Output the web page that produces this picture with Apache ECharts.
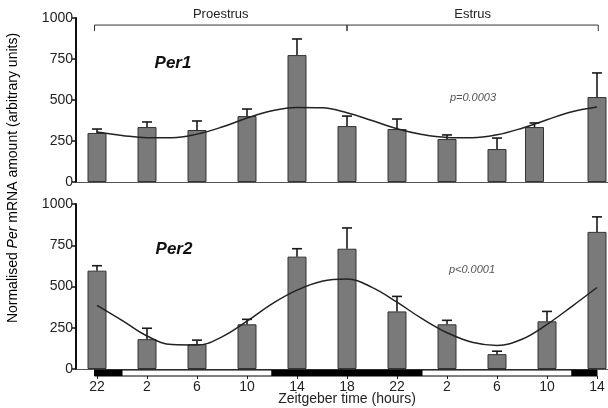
<!DOCTYPE html>
<html>
<head>
<meta charset="utf-8">
<script src="https://cdn.jsdelivr.net/npm/echarts@6/dist/echarts.min.js"></script>
<style>
  html, body { margin: 0; padding: 0; background: #fff; }
  #chart { width: 608px; height: 408px; }
</style>
</head>
<body>
<div id="chart"></div>
<script>
// time in hours counted from ZT0 of the first day (26 = ZT2 next day, ...)
var per1Hours = [22, 26, 30, 34, 38, 42, 46, 50, 54, 57, 62];
var per1Mean = [299, 335, 317, 402, 774, 341, 323, 262, 201, 335, 518];
var per1Sem = [24, 31, 55, 43, 98, 61, 61, 25, 67, 25, 147];

var per2Hours = [22, 26, 30, 34, 38, 42, 46, 50, 54, 58, 62];
var per2Mean = [596, 181, 151, 271, 681, 729, 349, 271, 90, 289, 831];
var per2Sem = [30, 66, 24, 30, 48, 126, 91, 24, 18, 60, 91];

// fitted cosinor curves, every 2 h
var fitHours = [22, 24, 26, 28, 30, 32, 34, 36, 38, 40, 42, 44, 46, 48, 50, 52, 54, 56, 58, 60, 62];
var per1Fit = [305, 284, 270, 270, 292, 335, 390, 435, 455, 452, 422, 375, 325, 290, 272, 270, 288, 328, 380, 428, 457];
var per2Fit = [386, 295, 200, 148, 145, 195, 290, 395, 478, 532, 545, 495, 405, 305, 220, 162, 143, 180, 270, 380, 494];

var tickHours = [22, 26, 30, 34, 38, 42, 46, 50, 54, 58, 62];
var tickLabels = ['22', '2', '6', '10', '14', '18', '22', '2', '6', '10', '14'];

// light/dark bar under the lower panel
var lightDark = [[21.8, 24, 'dark'], [24, 36, 'light'], [36, 48, 'dark'], [48, 60, 'light'], [60, 62, 'dark']];
// oestrous cycle stages above the upper panel
var phases = [[21.8, 42, 'Proestrus'], [42, 62.1, 'Estrus']];

var FONT = '"Liberation Sans", Arial, Helvetica, sans-serif';
var X_MIN = 20.32, X_MAX = 62.88;

var myChart = echarts.init(document.getElementById('chart'));

function renderErr(params, api) {
  var x = api.value(0), m = api.value(1), s = api.value(2);
  var p0 = api.coord([x, m]);
  var p1 = api.coord([x, m + s]);
  var st = { stroke: '#1a1a1a', lineWidth: 1.6 };
  return {
    type: 'group',
    children: [
      { type: 'line', shape: { x1: p0[0], y1: p0[1], x2: p1[0], y2: p1[1] }, style: st },
      { type: 'line', shape: { x1: p1[0] - 5, y1: p1[1], x2: p1[0] + 5, y2: p1[1] }, style: st }
    ]
  };
}

function renderLD(params, api) {
  var a = api.coord([api.value(0), 0]);
  var b = api.coord([api.value(1), 0]);
  var dark = lightDark[params.dataIndex][2] === 'dark';
  return {
    type: 'rect',
    shape: { x: a[0], y: a[1] + 1, width: b[0] - a[0], height: 6 },
    style: { fill: dark ? '#000' : '#fff', stroke: '#000', lineWidth: 1 }
  };
}

function renderPhase(params, api) {
  var level = 957;
  var a = api.coord([api.value(0), level]);
  var b = api.coord([api.value(1), level]);
  return {
    type: 'group',
    children: [
      {
        type: 'polyline',
        shape: { points: [[a[0], a[1] + 6], [a[0], a[1]], [b[0], b[1]], [b[0], b[1] + 6]] },
        style: { stroke: '#333', fill: null, lineWidth: 1 }
      },
      {
        type: 'text',
        x: (a[0] + b[0]) / 2,
        y: a[1] - 11,
        style: {
          text: phases[params.dataIndex][2],
          align: 'center', verticalAlign: 'middle',
          font: '13px ' + FONT, fill: '#222'
        }
      }
    ]
  };
}

function errData(hours, mean, sem) {
  return hours.map(function (h, i) { return [h, mean[i], sem[i]]; });
}
function pairs(xs, ys) {
  return xs.map(function (h, i) { return [h, ys[i]]; });
}

var yAxisBase = {
  type: 'value', min: 0, max: 1000, interval: 250,
  axisLine: { show: true, lineStyle: { color: '#111', width: 2 } },
  axisTick: { show: true, length: 4, lineStyle: { color: '#111', width: 1.5 } },
  axisLabel: {
    fontSize: 14, color: '#222', margin: 3, fontFamily: FONT,
    formatter: function (v) { return String(v); }
  },
  splitLine: { show: false }
};

var option = {
  animation: false,
  backgroundColor: '#fff',
  grid: [
    { left: 76, top: 18, width: 532, height: 164 },
    { left: 76, top: 204, width: 532, height: 165 }
  ],
  xAxis: [
    {
      gridIndex: 0, type: 'value', min: X_MIN, max: X_MAX, position: 'bottom',
      axisLine: { lineStyle: { color: '#555', width: 1 } },
      axisTick: { show: false }, axisLabel: { show: false }, splitLine: { show: false }
    },
    {
      gridIndex: 1, type: 'value', min: X_MIN, max: X_MAX, position: 'bottom',
      axisLine: { lineStyle: { color: '#555', width: 1 } },
      axisTick: { show: false }, axisLabel: { show: false }, splitLine: { show: false }
    },
    {
      gridIndex: 1, type: 'value', min: X_MIN, max: X_MAX, position: 'bottom', offset: 7,
      axisLine: { show: false, onZero: false },
      axisTick: { show: true, customValues: tickHours, length: 3, lineStyle: { color: '#222', width: 1 } },
      axisLabel: {
        show: true, customValues: tickHours, margin: 4, fontSize: 14, color: '#222', fontFamily: FONT,
        formatter: function (v) {
          var i = tickHours.indexOf(v);
          return i >= 0 ? tickLabels[i] : '';
        }
      },
      splitLine: { show: false }
    }
  ],
  yAxis: [
    Object.assign({ gridIndex: 0 }, yAxisBase),
    Object.assign({ gridIndex: 1 }, yAxisBase)
  ],
  graphic: [
    {
      type: 'text', x: 13, y: 178, rotation: Math.PI / 2,
      style: {
        text: '{n|Normalised }{i|Per}{n| mRNA amount (arbitrary units)}',
        align: 'center', verticalAlign: 'middle',
        rich: {
          n: { fontSize: 14, fontFamily: FONT, color: '#222' },
          i: { fontSize: 14, fontFamily: FONT, fontStyle: 'italic', color: '#222' }
        }
      }
    },
    {
      type: 'text', x: 347, y: 399,
      style: { text: 'Zeitgeber time (hours)', align: 'center', verticalAlign: 'middle', font: '14px ' + FONT, fill: '#222' }
    },
    {
      type: 'text', x: 173, y: 63,
      style: { text: 'Per1', align: 'center', verticalAlign: 'middle', font: 'italic bold 17px ' + FONT, fill: '#111' }
    },
    {
      type: 'text', x: 174, y: 249,
      style: { text: 'Per2', align: 'center', verticalAlign: 'middle', font: 'italic bold 17px ' + FONT, fill: '#111' }
    },
    {
      type: 'text', x: 473, y: 98,
      style: { text: 'p=0.0003', align: 'center', verticalAlign: 'middle', font: 'italic 11px ' + FONT, fill: '#555' }
    },
    {
      type: 'text', x: 472, y: 270,
      style: { text: 'p<0.0001', align: 'center', verticalAlign: 'middle', font: 'italic 11px ' + FONT, fill: '#555' }
    }
  ],
  series: [
    {
      name: 'Per1', type: 'bar', xAxisIndex: 0, yAxisIndex: 0,
      data: pairs(per1Hours, per1Mean), barWidth: 19,
      itemStyle: { color: '#7a7a7a', borderColor: '#333', borderWidth: 1 }
    },
    {
      type: 'custom', xAxisIndex: 0, yAxisIndex: 0, z: 3,
      renderItem: renderErr, data: errData(per1Hours, per1Mean, per1Sem)
    },
    {
      type: 'line', xAxisIndex: 0, yAxisIndex: 0, z: 4,
      data: pairs(fitHours, per1Fit), smooth: 0.4, showSymbol: false,
      lineStyle: { color: '#222', width: 1.5 }
    },
    {
      type: 'custom', xAxisIndex: 0, yAxisIndex: 0, clip: false,
      renderItem: renderPhase,
      data: phases.map(function (p) { return [p[0], p[1]]; })
    },
    {
      name: 'Per2', type: 'bar', xAxisIndex: 1, yAxisIndex: 1,
      data: pairs(per2Hours, per2Mean), barWidth: 19,
      itemStyle: { color: '#7a7a7a', borderColor: '#333', borderWidth: 1 }
    },
    {
      type: 'custom', xAxisIndex: 1, yAxisIndex: 1, z: 3,
      renderItem: renderErr, data: errData(per2Hours, per2Mean, per2Sem)
    },
    {
      type: 'line', xAxisIndex: 1, yAxisIndex: 1, z: 4,
      data: pairs(fitHours, per2Fit), smooth: 0.4, showSymbol: false,
      lineStyle: { color: '#222', width: 1.5 }
    },
    {
      type: 'custom', xAxisIndex: 1, yAxisIndex: 1, clip: false, z: 5,
      renderItem: renderLD,
      data: lightDark.map(function (d) { return [d[0], d[1]]; })
    }
  ]
};

myChart.setOption(option);
</script>
</body>
</html>
